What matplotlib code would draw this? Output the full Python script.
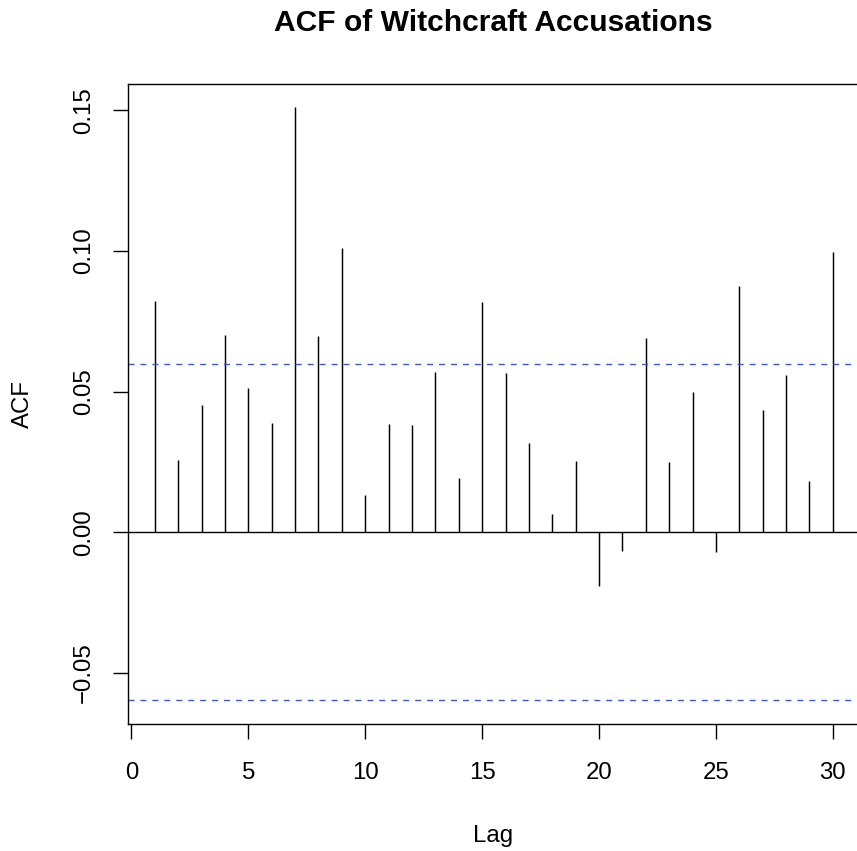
import numpy as np
import matplotlib
matplotlib.use("Agg")
import matplotlib.pyplot as plt

plt.rcParams["font.family"] = ["Liberation Sans", "DejaVu Sans"]

# autocorrelation at lags 1..30
lags = np.arange(1, 31)
acf_vals = [0.0822, 0.0258, 0.0451, 0.0700, 0.0512, 0.0387, 0.1511, 0.0698,
            0.1009, 0.0134, 0.0384, 0.0383, 0.0570, 0.0193, 0.0818, 0.0567,
            0.0317, 0.0066, 0.0253, -0.0190, -0.0065, 0.0689, 0.0250, 0.0500,
            -0.0069, 0.0874, 0.0435, 0.0559, 0.0183, 0.0996]
ci = 0.0597          # 95% white-noise bound
y_ticks = [-0.05, 0.00, 0.05, 0.10, 0.15]
x_ticks = [0, 5, 10, 15, 20, 25, 30]

W, H = 857, 851
fig = plt.figure(figsize=(W / 100, H / 100), dpi=100)

# plot region in pixels: left 127.7, right 860, top 83.5, bottom 724
ax = fig.add_axes([127.7 / W, 1 - 724 / H, (860 - 127.7) / W, (724 - 83.5) / H])

ax.vlines(lags, 0, acf_vals, color="black", lw=1.05)
ax.axhline(0, color="black", lw=1.0)
for c in (ci, -ci):
    ax.axhline(c, color="#3b5bc8", lw=1.0, dashes=(4.3, 4.3))

# R-style 4% padding on the data range
lo = min(min(acf_vals), -ci)
hi = max(max(acf_vals), ci)
pad = 0.04 * (hi - lo)
ax.set_ylim(lo - pad, hi + pad)
xpad = 0.04 * (lags.max() - lags.min())
ax.set_xlim(lags.min() - xpad, lags.max() + xpad)

ax.set_xticks(x_ticks)
ax.set_yticks(y_ticks)
ax.set_yticklabels([f"{v:.2f}".replace("-", "\u2212") for v in y_ticks])
ax.tick_params(axis="both", length=10.8, width=1.0, labelsize=17.3, direction="out")
ax.tick_params(axis="x", pad=16.5)
ax.tick_params(axis="y", pad=13, labelrotation=90)
for lab in ax.get_yticklabels():
    lab.set_verticalalignment("center")

for sp in ax.spines.values():
    sp.set_linewidth(1.0)

fig.text(493.5 / W, 1 - 31 / H, "ACF of Witchcraft Accusations",
         ha="center", va="baseline", fontsize=21.6, fontweight="bold")
fig.text(493.5 / W, 1 - 842 / H, "Lag", ha="center", va="baseline", fontsize=17.3)
fig.text(22.5 / W, 1 - 404 / H, "ACF", ha="center", va="center",
         rotation=90, fontsize=17.3)

fig.savefig("out.png", dpi=100)
